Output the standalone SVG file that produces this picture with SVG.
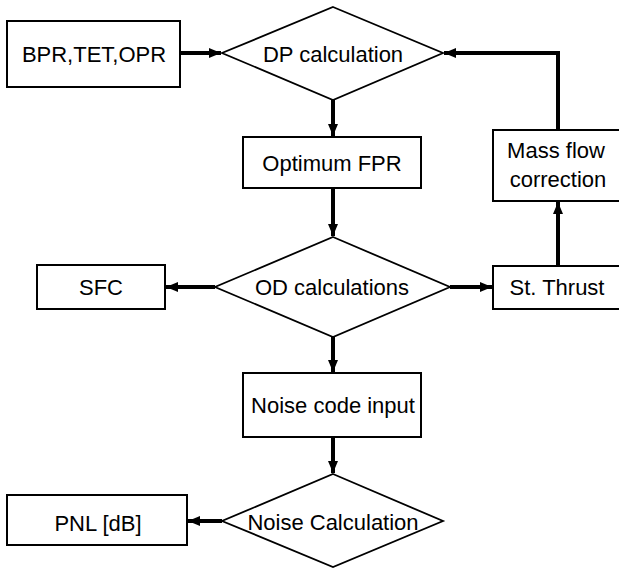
<svg xmlns="http://www.w3.org/2000/svg" width="619" height="568" viewBox="0 0 619 568">
<defs>
<style>
.box{fill:#fff;stroke:#000;stroke-width:2}
.dia{fill:#fff;stroke:#000;stroke-width:1.8}
.lbl{font-family:"Liberation Sans",Arial,sans-serif;font-size:22px;fill:#000;text-anchor:middle}
.con{fill:none;stroke:#000;stroke-width:4}
</style>
<marker id="ah" markerUnits="userSpaceOnUse" markerWidth="12" markerHeight="10" refX="12" refY="5" orient="auto">
<path d="M0,0 L12,5 L0,10 Z" fill="#000"/>
</marker>
</defs>
<rect width="619" height="568" fill="#fff"/>
<g id="connectors">
<line class="con" x1="180" y1="53" x2="221" y2="53" marker-end="url(#ah)"/>
<line class="con" x1="333" y1="100" x2="333" y2="136" marker-end="url(#ah)"/>
<line class="con" x1="333" y1="188" x2="333" y2="236" marker-end="url(#ah)"/>
<line class="con" x1="215" y1="287" x2="166" y2="287" marker-end="url(#ah)"/>
<line class="con" x1="450" y1="287" x2="492" y2="287" marker-end="url(#ah)"/>
<line class="con" x1="558" y1="266" x2="558" y2="202" marker-end="url(#ah)"/>
<polyline class="con" points="558,130 558,53 444,53" marker-end="url(#ah)"/>
<line class="con" x1="333" y1="337" x2="333" y2="372" marker-end="url(#ah)"/>
<line class="con" x1="333" y1="437" x2="333" y2="473" marker-end="url(#ah)"/>
<line class="con" x1="222" y1="521" x2="188" y2="521" marker-end="url(#ah)"/>
</g>
<g id="bpr">
<rect class="box" x="7" y="21" width="173" height="66"/>
<text class="lbl" x="94" y="62">BPR,TET,OPR</text>
</g>
<g id="dp">
<polygon class="dia" points="333,7 443,53 333,100 222,53"/>
<text class="lbl" x="333" y="62">DP calculation</text>
</g>
<g id="optfpr">
<rect class="box" x="243" y="137" width="178" height="51"/>
<text class="lbl" x="332" y="171">Optimum FPR</text>
</g>
<g id="massflow">
<rect class="box" x="493" y="130" width="140" height="71"/>
<text class="lbl" x="556" y="158">Mass flow</text>
<text class="lbl" x="558" y="187">correction</text>
</g>
<g id="od">
<polygon class="dia" points="333,237 450,287 333,337 215,287"/>
<text class="lbl" x="332" y="295">OD calculations</text>
</g>
<g id="sfc">
<rect class="box" x="37" y="265" width="128" height="44"/>
<text class="lbl" x="101" y="295">SFC</text>
</g>
<g id="thrust">
<rect class="box" x="493" y="266" width="140" height="43"/>
<text class="lbl" x="557" y="295">St. Thrust</text>
</g>
<g id="noisecode">
<rect class="box" x="243" y="373" width="178" height="64"/>
<text class="lbl" x="333" y="413">Noise code input</text>
</g>
<g id="noisecalc">
<polygon class="dia" points="333,474 443,521 333,567 222,521"/>
<text class="lbl" x="333" y="530">Noise Calculation</text>
</g>
<g id="pnl">
<rect class="box" x="7" y="495" width="180" height="50"/>
<text class="lbl" x="98" y="531">PNL [dB]</text>
</g>
</svg>
